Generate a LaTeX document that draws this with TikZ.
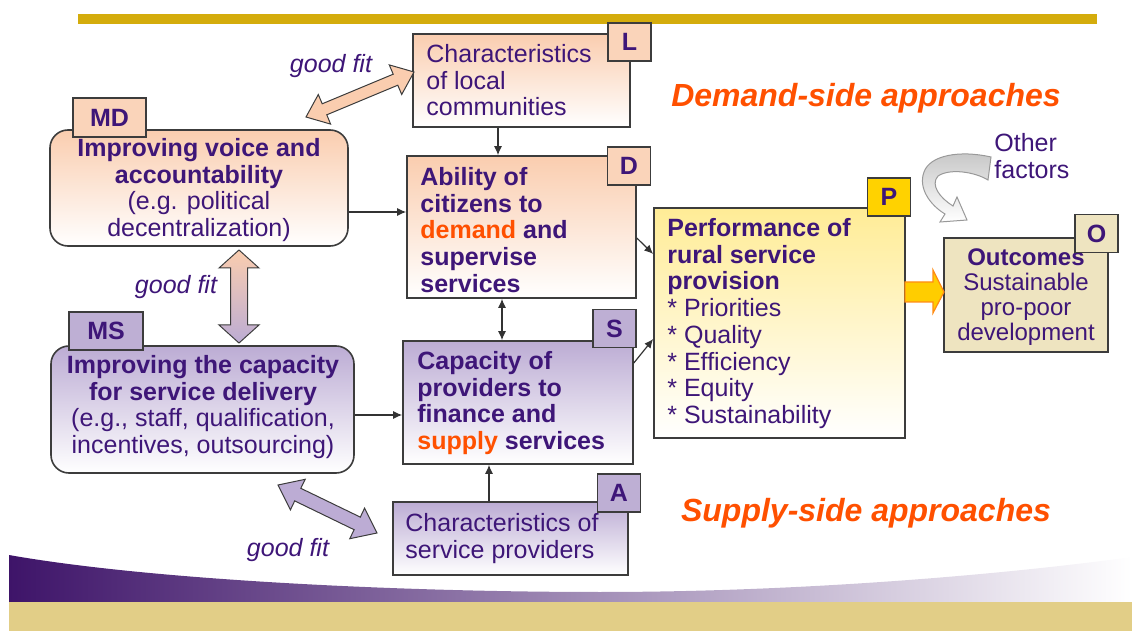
\documentclass[tikz,border=0pt]{standalone}
\usepackage{fontspec}
\setmainfont{Liberation Sans}
\usetikzlibrary{arrows.meta,fit}
\definecolor{txt}{RGB}{62,22,120}
\definecolor{orng}{RGB}{255,80,0}
\definecolor{peach}{RGB}{250,205,175}
\definecolor{peachtag}{RGB}{250,212,186}
\definecolor{lav}{RGB}{188,172,212}
\definecolor{lavtag}{RGB}{190,175,212}
\definecolor{pyel}{RGB}{255,236,150}
\definecolor{ptag}{RGB}{255,210,0}
\definecolor{obox}{RGB}{238,228,192}
\definecolor{goldbar}{RGB}{212,172,12}
\definecolor{goldband}{RGB}{226,206,135}
\definecolor{swoosh}{RGB}{62,20,105}
\definecolor{edge}{RGB}{60,60,60}
\definecolor{yarrow}{RGB}{255,205,0}
\definecolor{oarrow}{RGB}{255,140,20}
\begin{document}
\begin{tikzpicture}[x=0.5pt,y=-0.5pt,
  box/.style={draw=edge, line width=0.8pt, inner sep=0pt},
  tag/.style={draw=edge, line width=0.8pt, inner sep=0pt, text=txt,
    font=\fontsize{12.5}{13.35}\selectfont\bfseries, minimum width=21.5pt, minimum height=19pt},
  lbl/.style={inner sep=0pt, text=txt, font=\fontsize{12.5}{13.35}\selectfont},
  head/.style={inner sep=0pt, text=orng, font=\fontsize{16}{18}\selectfont\bfseries\itshape},
  fit label/.style={inner sep=0pt, text=txt, font=\fontsize{12.5}{13.35}\selectfont\itshape},
  conn/.style={draw=black!80, line width=0.6pt, -{Latex[length=4.5pt,width=4pt]}},
  conn2/.style={draw=black!80, line width=0.6pt, {Latex[length=4.5pt,width=4pt]}-{Latex[length=4.5pt,width=4pt]}},
  blockarrow/.style={draw=edge, line width=0.5pt, line join=miter}
]
\useasboundingbox (0,0) rectangle (1132,631);
% background decorations
\fill[goldbar] (78,14) rectangle (1097,24);
\shade[left color=swoosh, right color=white] (9,602) -- (9,555) .. controls (150,580) and (400,592) .. (600,592) .. controls (800,592) and (1000,575) .. (1132,557) -- (1132,602) -- cycle;
\fill[goldband] (9,602) rectangle (1132,631);

% boxes
\node[box, top color=peach, bottom color=white, fit={(413,34) (630,127)}] (L) {};
\node[box, rounded corners=9pt, top color=peach, bottom color=white, fit={(50,130) (348,246)}] (MD) {};
\node[box, top color=peach, bottom color=white, fit={(407,156) (636,298)}] (D) {};
\node[box, rounded corners=9pt, top color=lav, bottom color=white, fit={(51,346) (354,473)}] (MS) {};
\node[box, top color=lav, bottom color=white, fit={(403,341) (633,464)}] (S) {};
\node[box, top color=lav, bottom color=white, fit={(393,502) (628,575)}] (A) {};
\node[box, top color=pyel, bottom color=white, fit={(654,208) (905,438)}] (P) {};
\node[box, fill=obox, fit={(944,238) (1108,352)}] (O) {};

% texts
\node[lbl, anchor=north west, align=left] (Lt) at (426,44) {Characteristics\\of local\\communities};
\node[lbl, anchor=north, align=center] (MDt) at (199,138) {\textbf{Improving voice and}\\\textbf{accountability}\\(e.g. political\\decentralization)};
\node[lbl, anchor=north west, align=left, font=\fontsize{12.5}{13.35}\selectfont\bfseries] (Dt) at (420,167) {Ability of\\citizens to\\\textcolor{orng}{demand} and\\supervise\\services};
\node[lbl, anchor=north, align=center] (MSt) at (203,355) {\textbf{Improving the capacity}\\\textbf{for service delivery}\\(e.g., staff, qualification,\\incentives, outsourcing)};
\node[lbl, anchor=north west, align=left, font=\fontsize{12.5}{13.35}\selectfont\bfseries] (St) at (417,351) {Capacity of\\providers to\\finance and\\\textcolor{orng}{supply} services};
\node[lbl, anchor=north west, align=left] (At) at (405,513) {Characteristics of\\service providers};
\node[lbl, anchor=north west, align=left] (Pt) at (667,218) {\textbf{Performance of}\\\textbf{rural service}\\\textbf{provision}\\* Priorities\\* Quality\\* Efficiency\\* Equity\\* Sustainability};
\node[lbl, anchor=north, align=center, font=\fontsize{12}{12.5}\selectfont] (Ot) at (1026,248) {\textbf{Outcomes}\\Sustainable\\pro-poor\\development};

% tags
\node[tag, fill=peachtag] (Ltag) at (629.5,42) {L};
\node[tag, fill=peachtag, minimum width=36.5pt, minimum height=19.5pt] (MDtag) at (109.5,117.5) {MD};
\node[tag, fill=peachtag] (Dtag) at (629,166) {D};
\node[tag, fill=lavtag, minimum width=37pt] (MStag) at (106,331) {MS};
\node[tag, fill=lavtag] (Stag) at (614.5,328.5) {S};
\node[tag, fill=lavtag] (Atag) at (619,493) {A};
\node[tag, fill=ptag] (Ptag) at (889,197) {P};
\node[tag, fill=obox] (Otag) at (1096.5,233.5) {O};

% headings and labels
\node[head] (demand) at (866,98) {Demand-side approaches};
\node[head] (supply) at (866,513) {Supply-side approaches};
\node[fit label] (gf1) at (331,66) {good fit};
\node[fit label] (gf2) at (176,287) {good fit};
\node[fit label] (gf3) at (288,550) {good fit};
\node[lbl, anchor=north west, align=left] (other) at (994,133) {Other\\factors};

% block arrows ("good fit")
\path[blockarrow, fill=peach]
  (306,117) -- (330.6,124.1) -- (326.8,114.8) -- (397.8,85.2) -- (401.7,94.5)
  -- (414,72) -- (389.3,64.9) -- (393.2,74.2) -- (322.2,103.8) -- (318.3,94.5) -- cycle;
\path[blockarrow, top color=peach, bottom color=lav]
  (239,250) -- (259,268) -- (247.5,268) -- (247.5,325) -- (259,325) -- (239,343)
  -- (219,325) -- (230.5,325) -- (230.5,268) -- (219,268) -- cycle;
\path[blockarrow, fill=lav]
  (278,485) -- (290.4,509.9) -- (294.7,500.9) -- (354.1,529.7) -- (349.8,538.7)
  -- (377,533) -- (364.6,508.1) -- (360.3,517.1) -- (300.8,488.3) -- (305.2,479.3) -- cycle;
% P -> O block arrow
\path[draw=oarrow, line width=0.6pt, fill=yarrow]
  (905,282) -- (933,282) -- (933,270) -- (944,292) -- (933,313) -- (933,302) -- (905,302) -- cycle;
% other factors curved arrow
\path[draw=gray!80, line width=0.5pt, top color=gray!45, bottom color=white]
  (991,157) .. controls (960,150) and (930,155) .. (924,172)
  .. controls (918,188) and (930,205) .. (945,214)
  -- (940,222) -- (967,220) -- (957,197) -- (953,206)
  .. controls (940,198) and (930,185) .. (938,176)
  .. controls (950,168) and (975,172) .. (988,180) -- cycle;

% connectors
\coordinate (xLD) at (498,0);
\coordinate (xDS) at (502,0);
\coordinate (xAS) at (489,0);
\coordinate (yMD) at (0,212);
\coordinate (yMS) at (0,415);
\coordinate (yD1) at (0,238);
\coordinate (yP1) at (0,254);
\coordinate (yS1) at (0,363);
\coordinate (yP2) at (0,339);
\draw[conn] (L.south -| xLD) -- (D.north -| xLD);
\draw[conn] (MD.east |- yMD) -- (D.west |- yMD);
\draw[conn2] (D.south -| xDS) -- (S.north -| xDS);
\draw[conn] (MS.east |- yMS) -- (S.west |- yMS);
\draw[conn] (A.north -| xAS) -- (S.south -| xAS);
\draw[conn] (D.east |- yD1) -- (P.west |- yP1);
\draw[conn] (S.east |- yS1) -- (P.west |- yP2);
\end{tikzpicture}
\end{document}
